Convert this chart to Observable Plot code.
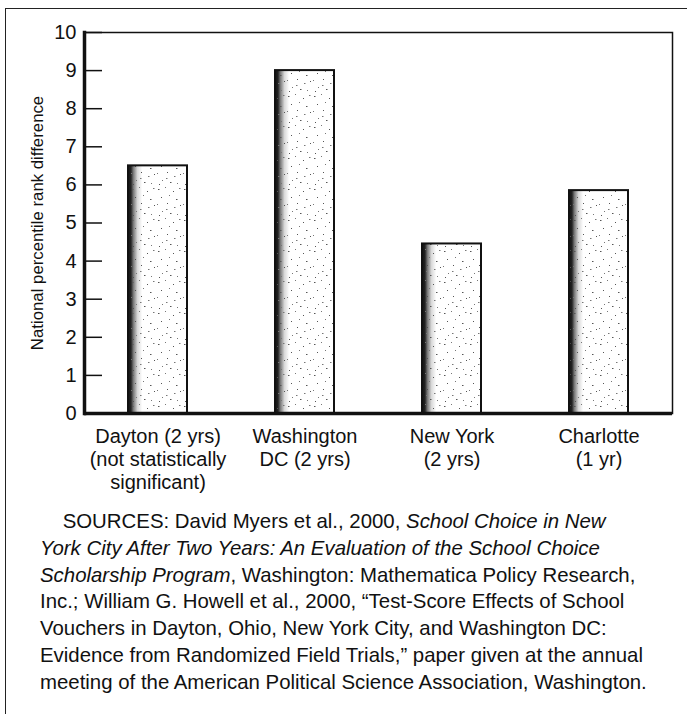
<!DOCTYPE html>
<html><head><meta charset="utf-8">
<script src="https://cdn.jsdelivr.net/npm/d3@7"></script>
<script src="https://cdn.jsdelivr.net/npm/@observablehq/plot@0.6"></script>
<style>
body{margin:0;background:#fff;font-family:"Liberation Sans",Arial,Helvetica,sans-serif;}
#border{position:absolute;left:5px;top:8px;width:760px;height:800px;border-left:1.5px solid #222;border-top:1.5px solid #222;}
#chart{position:absolute;left:0;top:0;}
#caption{position:absolute;left:40px;top:508px;font-size:20.4px;line-height:26.8px;white-space:nowrap;color:#111;}
</style></head><body>
<div id="border"></div>
<div id="chart"></div>
<div id="caption">&nbsp;&nbsp;&nbsp;&nbsp;SOURCES: David Myers et al., 2000, <i>School Choice in New</i><br><i>York City After Two Years: An Evaluation of the School Choice</i><br><i>Scholarship Program</i>, Washington: Mathematica Policy Research,<br>Inc.; William G. Howell et al., 2000, “Test-Score Effects of School<br>Vouchers in Dayton, Ohio, New York City, and Washington DC:<br>Evidence from Randomized Field Trials,” paper given at the annual<br>meeting of the American Political Science Association, Washington.</div>
<script>
const cities = ["Dayton (2 yrs)\n(not statistically\nsignificant)", "Washington\nDC (2 yrs)", "New York\n(2 yrs)", "Charlotte\n(1 yr)"];
const values = [6.5, 9.0, 4.45, 5.85];
const yTicks = [0,1,2,3,4,5,6,7,8,9,10];
const yLabel = "National percentile rank difference";

const data = cities.map((c, i) => ({city: c, value: values[i]}));

const plot = Plot.plot({
  width: 687,
  height: 500,
  marginLeft: 84,
  marginRight: 15,
  marginTop: 32,
  marginBottom: 87,
  style: {background: "none", fontFamily: "'Liberation Sans', Arial, sans-serif", fontSize: "20px", color: "#111"},
  x: {domain: cities, paddingInner: 0.6, paddingOuter: 0.3, label: null},
  y: {domain: [0, 10], label: yLabel},
  marks: [
    Plot.barY(data, {x: "city", y: "value", fill: "url(#edgeGrad)"}),
    Plot.barY(data, {x: "city", y: "value", fill: "url(#stip)", stroke: "#111", strokeWidth: 2}),
    Plot.axisX({tickSize: 0, tickPadding: 13, lineHeight: 1.15, fontSize: 20, label: null}),
    Plot.axisY(yTicks, {tickSize: 0, tickPadding: 8, fontSize: 20, label: yLabel, labelAnchor: "center", labelArrow: "none", labelOffset: 53}),
    Plot.axisY(yTicks, {tickSize: -18, text: null, label: null, strokeWidth: 1.5}),
    Plot.frame({strokeWidth: 1.5, stroke: "#111"}),
    Plot.ruleY([0], {strokeWidth: 3.5, stroke: "#111"}),
    Plot.frame({anchor: "left", strokeWidth: 3.5, stroke: "#111"})
  ]
});

// decorative fills
const svg = d3.select(plot);
svg.selectAll("g[aria-label='y-axis label'] text").attr("font-size", 16.8);
const defs = svg.insert("defs", ":first-child");
const g = defs.append("linearGradient").attr("id", "edgeGrad").attr("x1", 0).attr("x2", 1).attr("y1", 0).attr("y2", 0);
[[0, "#111"], [0.05, "#222"], [0.09, "#777"], [0.16, "#d8d8d8"], [0.24, "#fff"], [1, "#fff"]].forEach(([o, c]) => g.append("stop").attr("offset", o).attr("stop-color", c));
const p = defs.append("pattern").attr("id", "stip").attr("patternUnits", "userSpaceOnUse").attr("width", 26).attr("height", 31);
const dots = [[2,3],[9,1],[17,5],[23,2],[5,11],[13,9],[20,13],[1,18],[11,17],[18,21],[24,19],[6,25],[14,27],[21,28],[3,29],[10,23]];
dots.forEach(([x, y], i) => p.append("rect").attr("x", x).attr("y", y).attr("width", i % 3 === 0 ? 1.5 : 1).attr("height", 1).attr("fill", i % 2 ? "#777" : "#555"));

document.getElementById("chart").appendChild(plot);
</script>
</body></html>
